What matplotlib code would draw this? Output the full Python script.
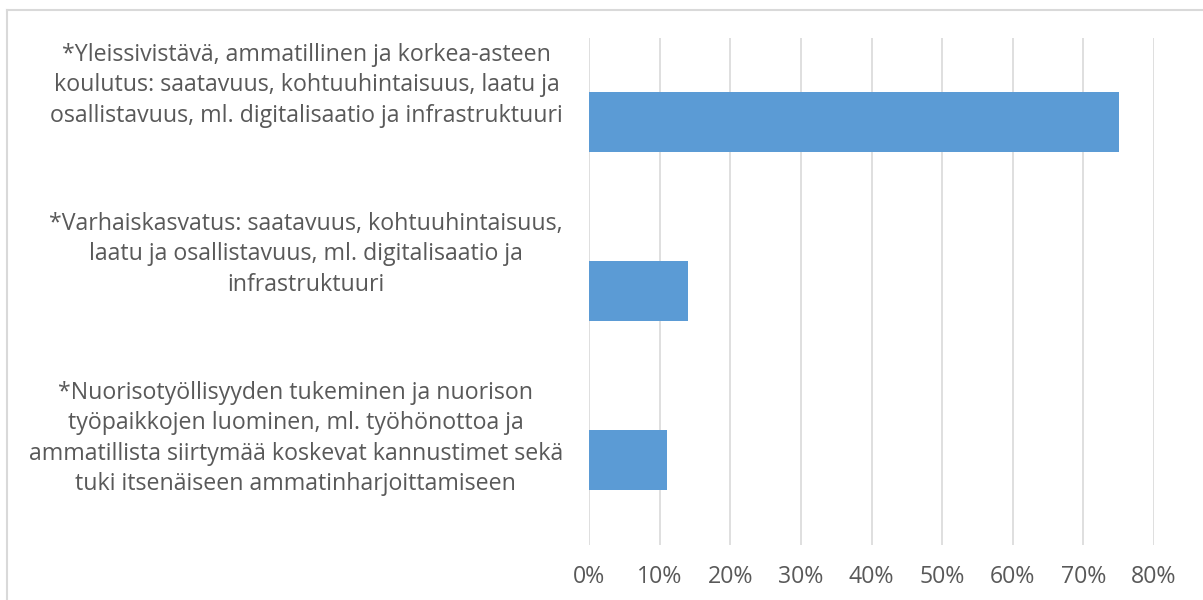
import numpy as np
import matplotlib
matplotlib.use("Agg")
import matplotlib.pyplot as plt
from matplotlib.ticker import PercentFormatter
from matplotlib.lines import Line2D

categories = [
    "*Yleissivistävä, ammatillinen ja korkea-asteen\nkoulutus: saatavuus, kohtuuhintaisuus, laatu ja\nosallistavuus, ml. digitalisaatio ja infrastruktuuri",
    "*Varhaiskasvatus: saatavuus, kohtuuhintaisuus,\nlaatu ja osallistavuus, ml. digitalisaatio ja\ninfrastruktuuri",
    "*Nuorisotyöllisyyden tukeminen ja nuorison\ntyöpaikkojen luominen, ml. työhönottoa ja\nammatillista siirtymää koskevat kannustimet sekä\ntuki itsenäiseen ammatinharjoittamiseen",
]
values = [0.75, 0.14, 0.11]
xticks = [0, 0.1, 0.2, 0.3, 0.4, 0.5, 0.6, 0.7, 0.8]

text_color = "#595959"
grid_color = "#d9d9d9"
bar_color = "#5b9bd5"

plt.rcParams["font.family"] = ["Open Sans", "DejaVu Sans"]
fs = 16.7

fig = plt.figure(figsize=(12.03, 6.0), dpi=100)
ax = fig.add_axes([0.4896, 0.0917, 0.4697, 0.845])

y = np.arange(len(categories))
ax.barh(y, values, height=0.355, color=bar_color, zorder=3)
ax.set_ylim(len(categories) - 0.5, -0.5)
ax.set_xlim(0, 0.8)
ax.set_xticks(xticks)
ax.xaxis.set_major_formatter(PercentFormatter(1.0, decimals=0))
ax.tick_params(axis="x", length=0, pad=14.5, labelsize=fs, labelcolor=text_color)
ax.set_yticks([])
ax.grid(axis="x", color=grid_color, linewidth=1.2, zorder=0)
for s in ax.spines.values():
    s.set_visible(False)

# category labels, top-aligned to each band, block right-aligned
xr = (563 - 589) / (1154 - 589)
for i, lab in enumerate(categories):
    ax.text(xr, i - 0.5 + 0.028, lab, transform=ax.get_yaxis_transform(),
            ha="right", va="top", multialignment="center",
            fontsize=fs, color=text_color, linespacing=1.36)

# outer chart border (top and left visible)
fig.add_artist(Line2D([7 / 1203, 1], [1 - 10 / 600, 1 - 10 / 600],
                      transform=fig.transFigure, color=grid_color, linewidth=1.5))
fig.add_artist(Line2D([7 / 1203, 7 / 1203], [0, 1 - 10 / 600],
                      transform=fig.transFigure, color=grid_color, linewidth=1.5))

fig.savefig("out.png", dpi=100)
